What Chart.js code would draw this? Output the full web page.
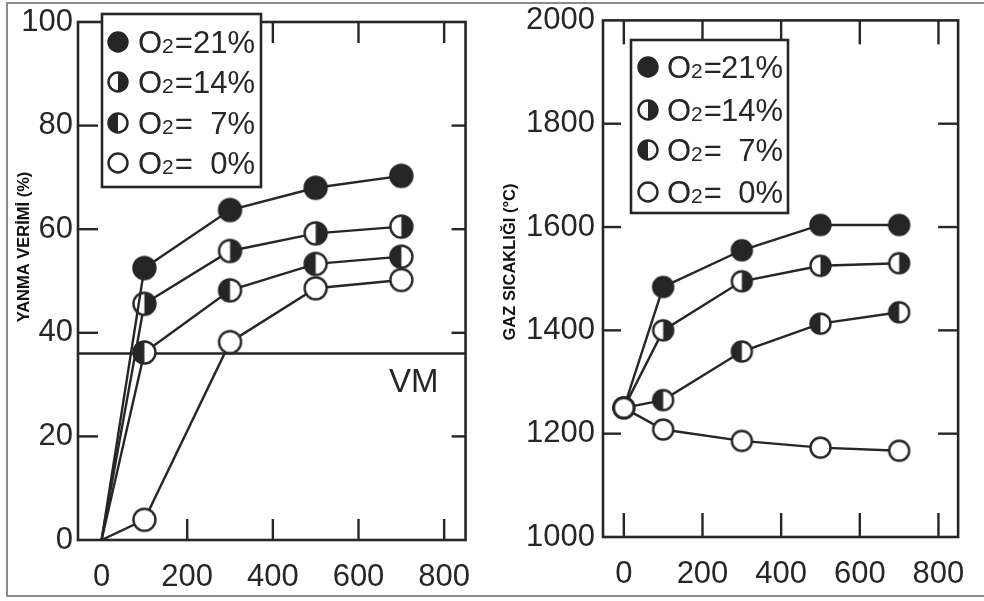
<!DOCTYPE html>
<html>
<head>
<meta charset="utf-8">
<script src="https://cdn.jsdelivr.net/npm/chart.js@4.4.1/dist/chart.umd.min.js"></script>
<style>
html,body{margin:0;padding:0;background:#fff;overflow:hidden;}
#wrap{position:relative;width:984px;height:601px;background:#fff;}
#c1{position:absolute;left:0;top:0;}
#c2{position:absolute;left:490px;top:0;}
#frame{position:absolute;left:6px;top:2px;width:1000px;height:595px;border:2px solid #8c8c8c;box-sizing:border-box;pointer-events:none;}
</style>
</head>
<body>
<div id="wrap">
<canvas id="c1" width="490" height="601"></canvas>
<canvas id="c2" width="494" height="601"></canvas>
<div id="frame"></div>
</div>
<script>
// ---------- data ----------
const xValues = [0, 100, 300, 500, 700];
const xTickValues = [0, 200, 400, 600, 800];
const o2Levels = ['21%', '14%', '7%', '0%'];

// Left panel: YANMA VERİMİ (%)
const efficiency21 = [0, 52.5, 63.7, 68.0, 70.3];
const efficiency14 = [0, 45.6, 55.8, 59.2, 60.5];
const efficiency7  = [0, 36.2, 48.2, 53.3, 54.7];
const efficiency0  = [0, 3.9, 38.2, 48.6, 50.2];
const efficiencyTicks = [0, 20, 40, 60, 80, 100];
const vmLevel = 36;
const vmLabel = 'VM';
const efficiencyTitle = 'YANMA VERİMİ (%)';

// Right panel: GAZ SICAKLIĞI (°C)
const temp21 = [1250, 1484, 1555, 1604, 1604];
const temp14 = [1250, 1400, 1495, 1525, 1530];
const temp7  = [1250, 1265, 1359, 1413, 1435];
const temp0  = [1250, 1208, 1186, 1173, 1167];
const tempTicks = [1000, 1200, 1400, 1600, 1800, 2000];
const tempTitle = 'GAZ SICAKLIĞI (°C)';

// ---------- styling ----------
const INK = '#262626';
const TXT = '#262626';
const NUM_FONT = "'Liberation Sans', Arial, sans-serif";
const LEG_FONT = "'Liberation Sans', Arial, sans-serif";
const kinds = ['full', 'right', 'left', 'open'];

function makeMarker(r, kind, lw) {
  lw = lw || 2.4;
  const s = Math.ceil(2 * r + lw + 2);
  const c = document.createElement('canvas');
  c.width = s; c.height = s;
  const g = c.getContext('2d');
  const m = s / 2;
  g.beginPath(); g.arc(m, m, r, 0, Math.PI * 2);
  g.fillStyle = kind === 'full' ? INK : '#fff'; g.fill();
  if (kind === 'right' || kind === 'left') {
    g.beginPath();
    if (kind === 'right') g.arc(m, m, r, -Math.PI / 2, Math.PI / 2);
    else g.arc(m, m, r, Math.PI / 2, Math.PI * 1.5);
    g.closePath(); g.fillStyle = INK; g.fill();
  }
  g.beginPath(); g.arc(m, m, r, 0, Math.PI * 2);
  g.lineWidth = lw; g.strokeStyle = INK; g.stroke();
  return c;
}

const markersL = kinds.map(k => makeMarker(11, k));
const markersR = kinds.map(k => makeMarker(10, k));
const legMarkersL = kinds.map(k => makeMarker(9.5, k));
const legMarkersR = kinds.map(k => makeMarker(9.5, k));

// ---------- plugin for framed box, inner ticks, legend, titles ----------
const decor = {
  id: 'decor',
  beforeDatasetsDraw(chart, args, o) {
    const ctx = chart.ctx, a = chart.chartArea;
    const xs = chart.scales.x, ys = chart.scales.y;
    ctx.save();
    ctx.strokeStyle = INK; ctx.lineWidth = 2.4; ctx.lineCap = 'butt';
    o.yInner.forEach(v => {
      const p = ys.getPixelForValue(v);
      ctx.beginPath(); ctx.moveTo(a.left, p); ctx.lineTo(a.left + o.tickL, p); ctx.stroke();
      ctx.beginPath(); ctx.moveTo(a.right, p); ctx.lineTo(a.right - o.tickR, p); ctx.stroke();
    });
    o.xInner.forEach(v => {
      const p = xs.getPixelForValue(v);
      ctx.beginPath(); ctx.moveTo(p, a.bottom); ctx.lineTo(p, a.bottom - o.tickB); ctx.stroke();
      ctx.beginPath(); ctx.moveTo(p, a.top); ctx.lineTo(p, a.top + o.tickT); ctx.stroke();
    });
    if (o.refLine !== undefined) {
      const p = ys.getPixelForValue(o.refLine);
      ctx.beginPath(); ctx.moveTo(a.left, p); ctx.lineTo(a.right, p); ctx.stroke();
      ctx.fillStyle = TXT;
      ctx.font = "33px " + NUM_FONT;
      ctx.textAlign = 'right'; ctx.textBaseline = 'alphabetic';
      ctx.fillText(o.refText, a.right - 27, p + 38);
    }
    ctx.restore();
  },
  afterDraw(chart, args, o) {
    const ctx = chart.ctx, a = chart.chartArea;
    ctx.save();
    ctx.strokeStyle = INK; ctx.lineWidth = 2.6;
    ctx.strokeRect(a.left, a.top, a.right - a.left, a.bottom - a.top);
    const L = o.legend;
    ctx.fillStyle = '#fff';
    ctx.fillRect(L.x, L.y, L.w, L.h);
    ctx.strokeRect(L.x, L.y, L.w, L.h);
    L.rows.forEach((ry, i) => {
      const img = L.markers[i];
      ctx.drawImage(img, Math.round(L.mx - img.width / 2), Math.round(ry - img.height / 2));
      const base = ry + 11;
      ctx.fillStyle = TXT;
      ctx.textBaseline = 'alphabetic';
      ctx.textAlign = 'left';
      ctx.font = "31px " + LEG_FONT;
      let x = L.tx;
      ctx.fillText('O', x, base); x += ctx.measureText('O').width;
      ctx.font = "21px " + LEG_FONT;
      ctx.fillText('2', x, base); x += ctx.measureText('2').width + 1;
      ctx.font = "31px " + LEG_FONT;
      ctx.fillText('=', x, base);
      ctx.textAlign = 'right';
      ctx.fillText(o2Levels[i], L.tEnd, base);
    });
    ctx.translate(o.title.x, o.title.y);
    ctx.rotate(-Math.PI / 2);
    ctx.fillStyle = '#111';
    ctx.font = "bold " + o.title.size + "px " + LEG_FONT;
    ctx.textAlign = 'center'; ctx.textBaseline = 'middle';
    ctx.fillText(o.title.text, 0, 0);
    ctx.restore();
  }
};

function baseScales(xMin, xMax, yMin, yMax, yTicks, yWidth, xHeight, yPad) {
  return {
    x: {
      type: 'linear', min: xMin, max: xMax,
      afterBuildTicks: s => { s.ticks = xTickValues.map(v => ({ value: v })); },
      afterFit: s => { s.height = xHeight; },
      grid: { display: false, drawTicks: false },
      border: { display: false },
      ticks: { padding: 19, color: TXT, font: { family: NUM_FONT, size: 31 }, maxRotation: 0, autoSkip: false, callback: v => String(v) }
    },
    y: {
      type: 'linear', min: yMin, max: yMax,
      afterBuildTicks: s => { s.ticks = yTicks.map(v => ({ value: v })); },
      afterFit: s => { s.width = yWidth; },
      grid: { display: false, drawTicks: false },
      border: { display: false },
      ticks: { padding: yPad, color: TXT, font: { family: NUM_FONT, size: 31, lineHeight: 0.8 }, autoSkip: false, callback: v => String(v) }
    }
  };
}

function makeDatasets(seriesList, markers, radius, startMarker) {
  return seriesList.map((vals, i) => ({
    label: 'O2=' + o2Levels[i],
    data: xValues.map((x, j) => ({ x: x, y: vals[j] })),
    borderColor: INK,
    backgroundColor: INK,
    borderWidth: 2.4,
    tension: 0,
    pointStyle: c => (c.dataIndex === 0 && startMarker) ? startMarker : markers[i],
    pointRadius: c => (c.dataIndex === 0 && !startMarker) ? 0 : radius,
    pointHoverRadius: c => (c.dataIndex === 0 && !startMarker) ? 0 : radius
  }));
}

const common = {
  responsive: false,
  animation: false,
  devicePixelRatio: 1,
  events: [],
  clip: false
};

new Chart(document.getElementById('c1'), {
  type: 'line',
  data: { datasets: makeDatasets([efficiency21, efficiency14, efficiency7, efficiency0], markersL, 11, null) },
  options: Object.assign({}, common, {
    layout: { padding: { top: 22, right: 18, left: 0, bottom: 0 } },
    scales: baseScales(-55, 850, 0, 100, efficiencyTicks, 78, 61, 5),
    plugins: {
      legend: { display: false }, tooltip: { enabled: false },
      decor: {
        yInner: [20, 40, 60, 80], xInner: [200, 400, 600, 800],
        tickL: 20, tickR: 14, tickB: 21, tickT: 21,
        refLine: vmLevel, refText: vmLabel,
        legend: { x: 102, y: 14, w: 159, h: 173, mx: 118, rows: [42, 82, 123, 163], tx: 138, tEnd: 255, markers: legMarkersL },
        title: { x: 24, y: 247, size: 16.5, text: efficiencyTitle }
      }
    }
  }),
  plugins: [decor]
});

new Chart(document.getElementById('c2'), {
  type: 'line',
  data: { datasets: makeDatasets([temp21, temp14, temp7, temp0], markersR, 10, markersR[3]) },
  options: Object.assign({}, common, {
    layout: { padding: { top: 16, right: 5, left: 0, bottom: 0 } },
    scales: baseScales(-53, 850, 1000, 2000, tempTicks, 113, 64, 8),
    plugins: {
      legend: { display: false }, tooltip: { enabled: false },
      decor: {
        yInner: [1200, 1400, 1600, 1800], xInner: [0, 200, 400, 600, 800],
        tickL: 18, tickR: 20, tickB: 24, tickT: 24,
        legend: { x: 141, y: 40, w: 157, h: 173, mx: 158, rows: [67, 110, 150, 192], tx: 177, tEnd: 293, markers: legMarkersR },
        title: { x: 20, y: 262, size: 16.5, text: tempTitle }
      }
    }
  }),
  plugins: [decor]
});
</script>
</body>
</html>
